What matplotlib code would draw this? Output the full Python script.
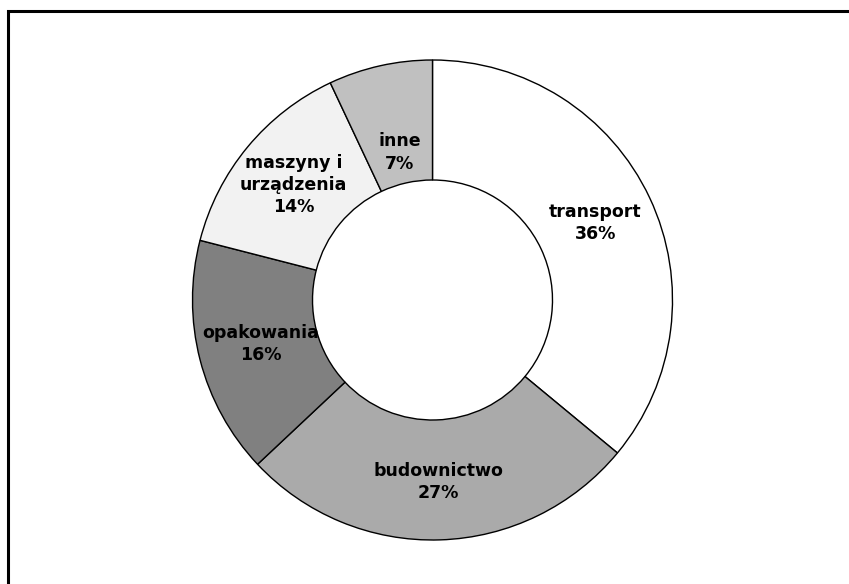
import matplotlib
matplotlib.use("Agg")
import matplotlib.pyplot as plt
from matplotlib.patches import Rectangle
import numpy as np

# Sector shares (percent), drawn clockwise from the top
categories = ["transport", "budownictwo", "opakowania", "maszyny i\nurządzenia", "inne"]
shares = [36, 27, 16, 14, 7]
colors = ["#ffffff", "#aaaaaa", "#808080", "#f2f2f2", "#c0c0c0"]
# radial placement of each label inside its ring segment
label_radius = [0.75, 0.76, 0.74, 0.75, 0.63]

W, H = 849, 584
fig = plt.figure(figsize=(W / 100, H / 100), dpi=100)
fig.patch.set_facecolor("white")

# Frame around the chart area
fig.add_artist(Rectangle((8 / W, -0.1), 1.2, (H - 11) / H + 0.1,
                         transform=fig.transFigure, fill=False,
                         edgecolor="black", linewidth=2.2))

cx, cy, R = 432.5, 284, 240
ax = fig.add_axes([(cx - R) / W, (cy - R) / H, 2 * R / W, 2 * R / H])
ax.set_aspect("equal")

labels = [f"{c}\n{v}%" for c, v in zip(categories, shares)]
wedges, texts = ax.pie(
    shares, colors=colors, startangle=90, counterclock=False,
    radius=1.0, labels=labels, labeldistance=None,
    wedgeprops=dict(width=0.5, edgecolor="black", linewidth=1.0),
)

cum = np.cumsum([0] + shares)
for lab, a, b, r in zip(labels, cum[:-1], cum[1:], label_radius):
    mid = np.deg2rad(90 - (a + b) / 2 / 100 * 360)
    ax.text(r * np.cos(mid), r * np.sin(mid), lab,
            ha="center", va="center", fontsize=12.5, fontweight="bold",
            family="DejaVu Sans", linespacing=1.3, color="black")

ax.set_xlim(-1, 1)
ax.set_ylim(-1, 1)
ax.axis("off")

fig.savefig("out.png", dpi=100, facecolor="white")
